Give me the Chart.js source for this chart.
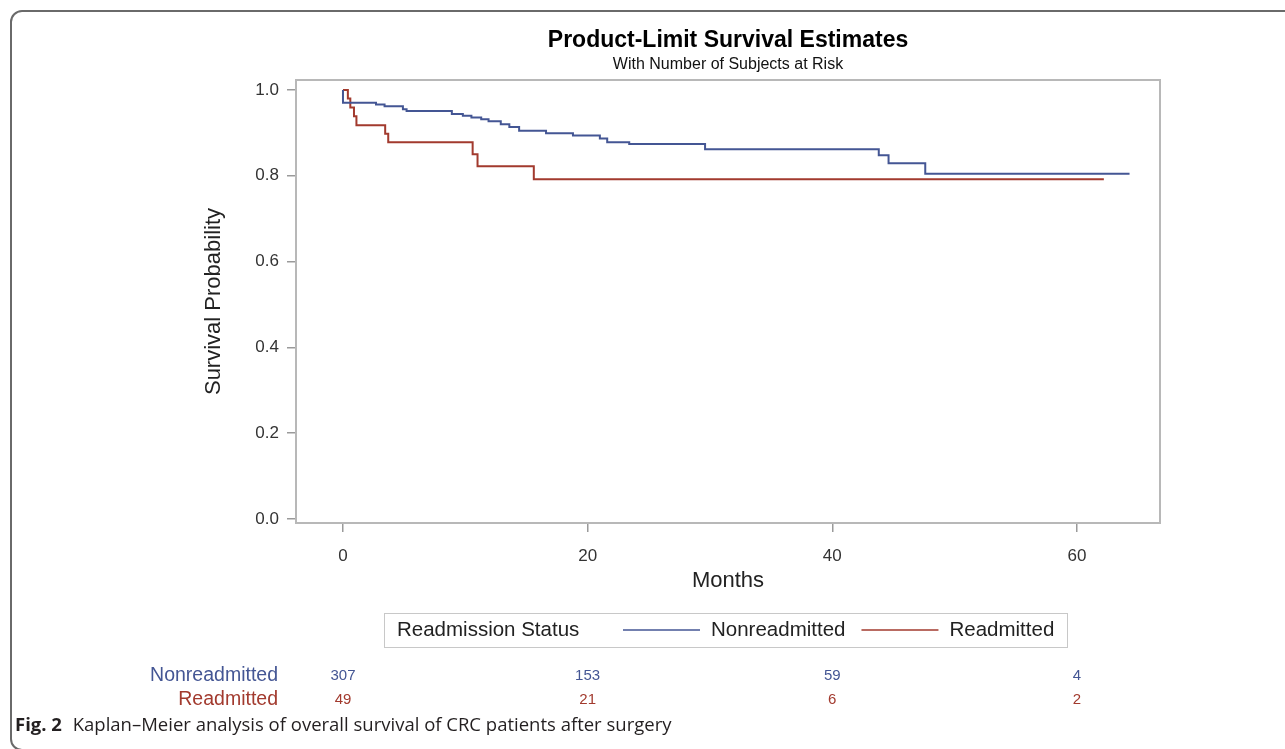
<!DOCTYPE html>
<html>
<head>
<meta charset="utf-8">
<title>Product-Limit Survival Estimates</title>
<script src="https://cdn.jsdelivr.net/npm/chart.js@4.4.1/dist/chart.umd.min.js"></script>
<style>
    html, body { margin: 0; padding: 0; background: #fff; }
    body { width: 1285px; height: 749px; position: relative; overflow: hidden; }
    .frame {
        position: absolute; left: 10px; top: 10px; width: 1320px; height: 741px;
        border: 2px solid #6a6a6a; border-radius: 12px; box-sizing: border-box;
    }
    .wrap { position: absolute; left: 0; top: 0; width: 1285px; height: 749px; }
    .caption {
        position: absolute; left: 15px; top: 711px; white-space: nowrap;
        font-family: "Open Sans", sans-serif; font-size: 18.5px; color: #231f20;
        letter-spacing: 0px;
    }
    .caption b { font-weight: 700; margin-right: 6px; }
</style>
</head>
<body>
<div class="frame"></div>
<div class="wrap"><canvas id="km"></canvas></div>
<div class="caption"><b>Fig. 2</b> Kaplan–Meier analysis of overall survival of CRC patients after surgery</div>

<script>
// survival curves (months, survival probability)
const nonreadmittedMonths = [0, 0, 2.7, 3.4, 4.9, 5.2, 8.9, 9.8, 10.5, 11.3, 11.9, 12.9, 13.6, 14.4, 16.6, 18.8, 21.0, 21.6, 23.4, 29.6, 43.8, 44.6, 47.6, 64.3]
const nonreadmittedSurv = [1.0, 0.970, 0.966, 0.962, 0.955, 0.951, 0.944, 0.940, 0.936, 0.932, 0.927, 0.920, 0.914, 0.905, 0.899, 0.894, 0.887, 0.878, 0.874, 0.862, 0.848, 0.829, 0.805, 0.805]

const readmittedMonths = [0, 0.4, 0.6, 0.9, 1.1, 3.45, 3.7, 10.6, 11.0, 15.6, 62.2]
const readmittedSurv = [1.0, 0.980, 0.959, 0.939, 0.918, 0.898, 0.878, 0.850, 0.822, 0.792, 0.792]

// axis ticks
const monthTicks = [0, 20, 40, 60]
const survTicks = [0, 0.2, 0.4, 0.6, 0.8, 1.0]

// number at risk table
const riskMonths = [0, 20, 40, 60]
const atRiskNonreadmitted = [307, 153, 59, 4]
const atRiskReadmitted = [49, 21, 6, 2]

const FONT = '"Liberation Sans", Arial, sans-serif'
const BLUE = '#445694'
const RED = '#A23A2E'

function toPoints(xs, ys) {
    return xs.map((x, i) => ({ x: x, y: ys[i] }))
}

// plot frame, legend box and the at-risk rows
const samExtras = {
    id: 'samExtras',
    beforeDatasetsDraw(chart) {
        const { ctx, chartArea: a } = chart
        ctx.save()
        ctx.strokeStyle = '#b8b8b8'
        ctx.lineWidth = 2
        ctx.strokeRect(a.left, a.top, a.right - a.left, a.bottom - a.top)
        ctx.restore()
    },
    afterDraw(chart) {
        const ctx = chart.ctx
        const xs = chart.scales.x
        ctx.save()

        // legend
        ctx.strokeStyle = '#c8c8c8'
        ctx.lineWidth = 1
        ctx.strokeRect(384.5, 613.5, 683, 34)
        ctx.font = '20.5px ' + FONT
        ctx.fillStyle = '#222'
        ctx.textBaseline = 'middle'
        ctx.textAlign = 'left'
        ctx.fillText('Readmission Status', 397, 630)
        let lx = 623
        chart.data.datasets.forEach(ds => {
            ctx.strokeStyle = ds.borderColor
            ctx.lineWidth = 1.5
            ctx.beginPath()
            ctx.moveTo(lx, 630)
            ctx.lineTo(lx + 77, 630)
            ctx.stroke()
            ctx.fillStyle = '#222'
            ctx.fillText(ds.label, lx + 88, 630)
            lx += 88 + ctx.measureText(ds.label).width + 16
        })

        // number of subjects at risk
        const rows = [atRiskNonreadmitted, atRiskReadmitted]
        const rowY = [676, 700]
        rows.forEach((vals, i) => {
            const ds = chart.data.datasets[i]
            ctx.fillStyle = ds.borderColor
            ctx.font = '19.5px ' + FONT
            ctx.textAlign = 'right'
            ctx.fillText(ds.label, 278, rowY[i])
            ctx.font = '15px ' + FONT
            ctx.textAlign = 'center'
            vals.forEach((v, j) => {
                ctx.fillText(String(v), xs.getPixelForValue(riskMonths[j]), rowY[i])
            })
        })
        ctx.restore()
    }
}

const ctx = document.getElementById('km').getContext('2d')

new Chart(ctx, {
    type: 'scatter',
    data: {
        datasets: [{
            label: 'Nonreadmitted',
            data: toPoints(nonreadmittedMonths, nonreadmittedSurv),
            showLine: true,
            stepped: true,
            borderColor: BLUE,
            backgroundColor: BLUE,
            borderWidth: 2,
            pointRadius: 0
        }, {
            label: 'Readmitted',
            data: toPoints(readmittedMonths, readmittedSurv),
            showLine: true,
            stepped: true,
            borderColor: RED,
            backgroundColor: RED,
            borderWidth: 2,
            pointRadius: 0
        }]
    },
    options: {
        responsive: true,
        maintainAspectRatio: false,
        animation: false,
        layout: { padding: { left: 190, right: 125, top: 0, bottom: 151 } },
        plugins: {
            legend: { display: false },
            tooltip: { enabled: false },
            title: {
                display: true,
                fullSize: false,
                text: 'Product-Limit Survival Estimates',
                color: '#000',
                font: { family: FONT, size: 23, weight: 'bold' },
                padding: { top: 27, bottom: 0 }
            },
            subtitle: {
                display: true,
                fullSize: false,
                text: 'With Number of Subjects at Risk',
                color: '#111',
                font: { family: FONT, size: 16 },
                padding: { top: 0, bottom: 6.2 }
            }
        },
        scales: {
            x: {
                type: 'linear',
                min: -3.84,
                max: 66.79,
                afterBuildTicks: s => { s.ticks = monthTicks.map(v => ({ value: v })) },
                afterFit: s => { s.height = 75 },
                ticks: { color: '#333', font: { family: FONT, size: 17 }, padding: 14 },
                grid: { drawOnChartArea: false, drawTicks: true, tickLength: 9, color: '#9a9a9a', lineWidth: 1.5 },
                border: { display: false },
                title: { display: true, text: 'Months', color: '#222', font: { family: FONT, size: 22 }, padding: { top: 0, bottom: 4 } }
            },
            y: {
                type: 'linear',
                min: -0.0093,
                max: 1.0233,
                afterBuildTicks: s => { s.ticks = survTicks.map(v => ({ value: v })) },
                afterFit: s => { s.width = 106 },
                ticks: { color: '#333', font: { family: FONT, size: 17 }, padding: 8, callback: v => v.toFixed(1) },
                grid: { drawOnChartArea: false, drawTicks: true, tickLength: 9, color: '#9a9a9a', lineWidth: 1.5 },
                border: { display: false },
                title: { display: true, text: 'Survival Probability', color: '#222', font: { family: FONT, size: 22 }, padding: { top: 11, bottom: 0 } }
            }
        }
    },
    plugins: [samExtras]
})
</script>
</body>
</html>
